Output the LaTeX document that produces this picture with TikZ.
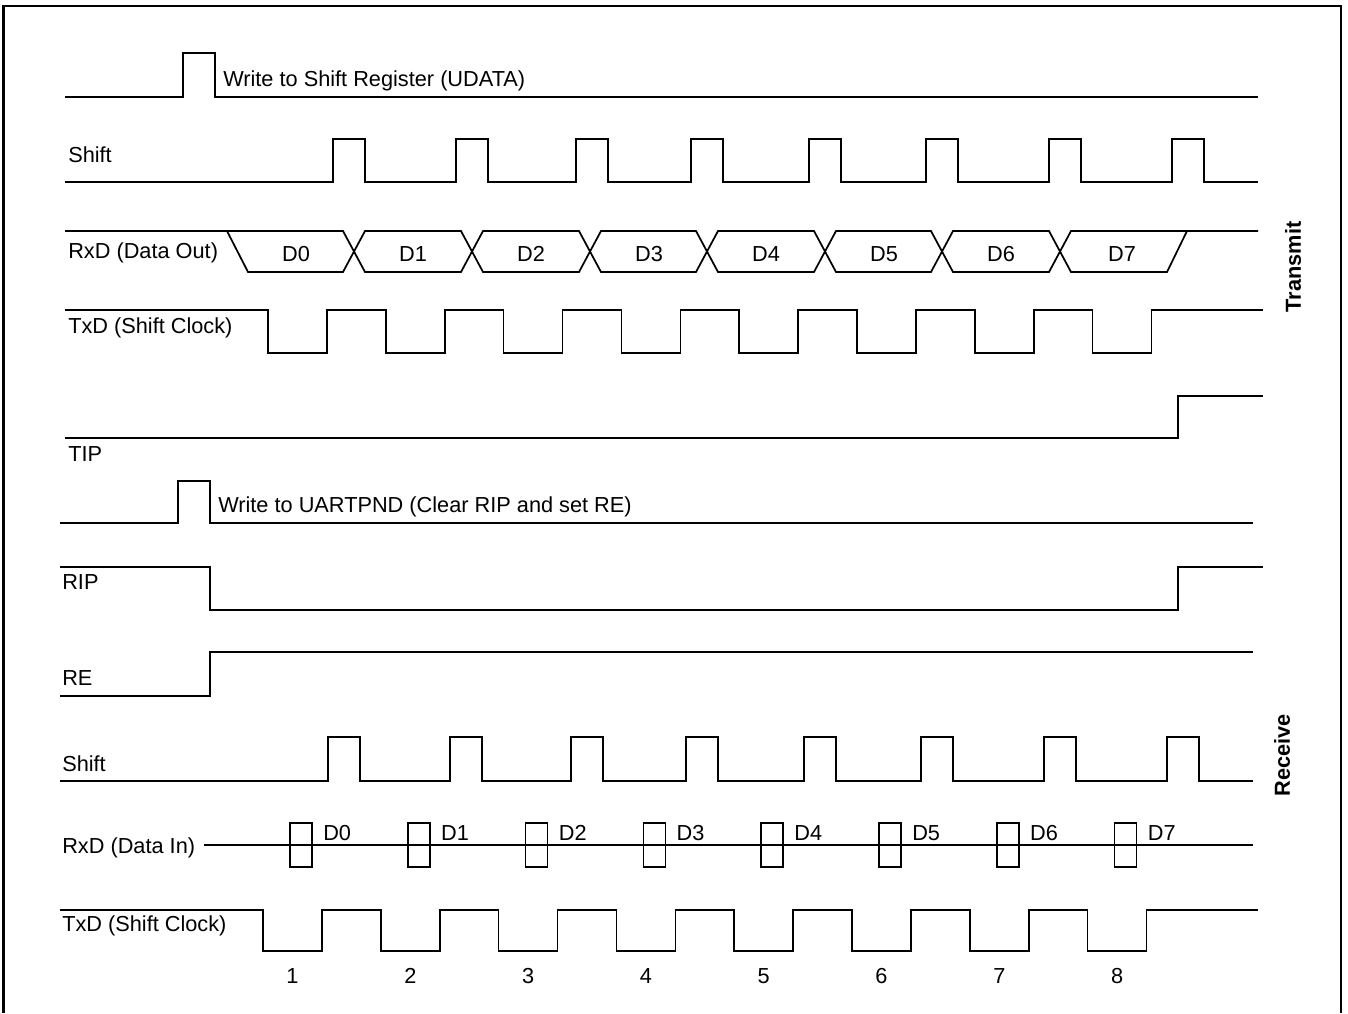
\documentclass[tikz,border=0pt]{standalone}
\usepackage{fontspec}
\setmainfont{Liberation Sans}
\begin{document}
\begin{tikzpicture}[x=0.75pt,y=-0.75pt,
  sig/.style={line width=1.3pt, line join=miter},
  frame/.style={line width=1.8pt},
  lbl/.style={anchor=base west, inner sep=0pt, font=\fontsize{16.3}{19}\selectfont},
  num/.style={anchor=base, inner sep=0pt, font=\fontsize{16.3}{19}\selectfont},
  side/.style={rotate=90, inner sep=0pt, font=\fontsize{16.3}{19}\selectfont\bfseries}]
\useasboundingbox (0,0) rectangle (1348,1013);
% frame
\draw[frame] (3.5,1013) -- (3.5,6) -- (1341,6) -- (1341,1013);

% ===== Transmit =====
% Write to Shift Register
\draw[sig] (65,97) -- (183,97) -- (183,53) -- (215,53) -- (215,97) -- (1258,97);
\node[lbl] (wsr) at (223,87) {Write to Shift Register (UDATA)};

% Shift (transmit)
\node[lbl] (shiftT) at (68,162) {Shift};
\draw[sig] (65,182) \foreach \r in {333,456,576,691,809,926,1049,1172}{ -- (\r,182) -- (\r,139) -- (\r+32,139) -- (\r+32,182)} -- (1258,182);

% RxD (Data Out)
\node[lbl] (rxdo) at (68,258) {RxD (Data Out)};
\draw[sig] (65,231) -- (343,231) -- (365,272) -- (461,272) -- (483,231) -- (579,231) -- (601,272)
  -- (696,272) -- (718,231) -- (814,231) -- (836,272) -- (931,272) -- (953,231)
  -- (1049,231) -- (1071,272) -- (1167,272) -- (1187,231);
\draw[sig] (227,231) -- (248,272) -- (343,272) -- (365,231) -- (461,231) -- (483,272) -- (579,272)
  -- (601,231) -- (696,231) -- (718,272) -- (814,272) -- (836,231) -- (931,231)
  -- (953,272) -- (1049,272) -- (1071,231) -- (1258,231);
\foreach \x/\t in {296/D0,413/D1,531/D2,649/D3,766/D4,884/D5,1001/D6,1122/D7}
  \node[num] (do\t) at (\x,261) {\t};

% TxD (Shift Clock) transmit
\node[lbl] (txdT) at (68,333) {TxD (Shift Clock)};
\draw[sig] (65,310) \foreach \i in {0,...,7}{ -- ({268+117.8*\i},310) -- ({268+117.8*\i},353) -- ({327+117.8*\i},353) -- ({327+117.8*\i},310)} -- (1263,310);

% TIP
\draw[sig] (65,438) -- (1178,438) -- (1178,396) -- (1263,396);
\node[lbl] (tip) at (68,461) {TIP};

\node[side] (transmit) at (1293,267) {Transmit};

% ===== Receive =====
\draw[sig] (60,523) -- (178,523) -- (178,481) -- (210,481) -- (210,523) -- (1253,523);
\node[lbl] (wup) at (218,512) {Write to UARTPND (Clear RIP and set RE)};

% RIP
\draw[sig] (60,567) -- (210,567) -- (210,610) -- (1178,610) -- (1178,567) -- (1263,567);
\node[lbl] (rip) at (62,589) {RIP};

% RE
\draw[sig] (60,696) -- (210,696) -- (210,652) -- (1253,652);
\node[lbl] (re) at (62,685) {RE};

% Shift (receive)
\node[lbl] (shiftR) at (62,771) {Shift};
\draw[sig] (60,781) \foreach \r in {328,450,571,686,804,921,1044,1167}{ -- (\r,781) -- (\r,737) -- (\r+32,737) -- (\r+32,781)} -- (1253,781);

% RxD (Data In)
\node[lbl] (rxdi) at (62,853) {RxD (Data In)};
\draw[sig] (204,845) -- (1253,845);
\foreach \i/\t in {0/D0,1/D1,2/D2,3/D3,4/D4,5/D5,6/D6,7/D7}{
  \draw[sig] ({290+117.8*\i},823) rectangle ({312+117.8*\i},867);
  \node[lbl] (di\t) at ({323+117.8*\i},840) {\t};
}

% TxD (Shift Clock) receive
\node[lbl] (txdR) at (62,931) {TxD (Shift Clock)};
\draw[sig] (60,910) \foreach \i in {0,...,7}{ -- ({263+117.8*\i},910) -- ({263+117.8*\i},951) -- ({322+117.8*\i},951) -- ({322+117.8*\i},910)} -- (1258,910);
\foreach \i in {1,...,8}
  \node[num] (n\i) at ({292.5+117.8*(\i-1)},983) {\i};

\node[side] (receive) at (1282,755) {Receive};
\end{tikzpicture}
\end{document}
